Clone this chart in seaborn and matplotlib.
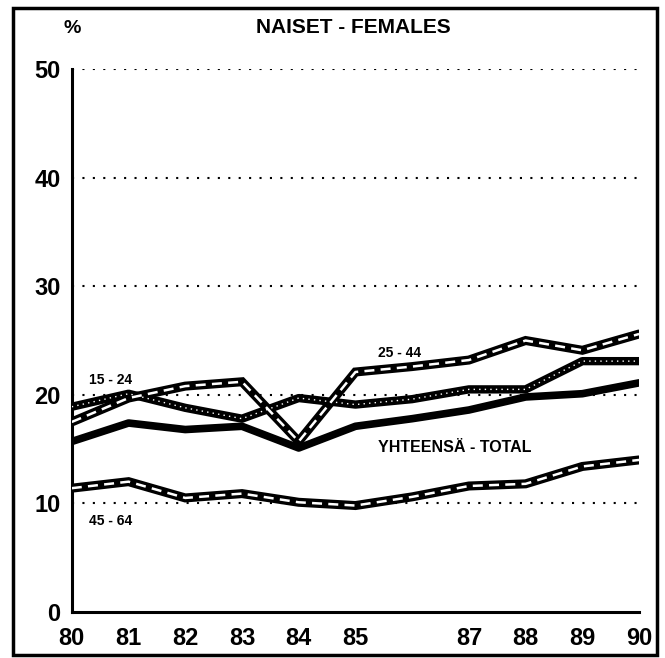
import matplotlib
matplotlib.use('Agg')
import matplotlib.pyplot as plt
import seaborn as sns
import pandas as pd
from matplotlib.patches import Rectangle

# data (share, %)
years = [80, 81, 82, 83, 84, 85, 86, 87, 88, 89, 90]
year_labels = ['80', '81', '82', '83', '84', '85', '', '87', '88', '89', '90']
total = [15.7, 17.4, 16.8, 17.1, 15.1, 17.1, 17.8, 18.6, 19.8, 20.1, 21.1]
age_15_24 = [18.9, 20.1, 18.8, 17.8, 19.7, 19.1, 19.6, 20.5, 20.5, 23.1, 23.1]
age_25_44 = [17.5, 19.7, 20.8, 21.2, 15.7, 22.1, 22.6, 23.2, 25.0, 24.1, 25.6]
age_45_64 = [11.4, 12.0, 10.5, 10.9, 10.1, 9.8, 10.6, 11.6, 11.8, 13.4, 14.0]
y_ticks = [0, 10, 20, 30, 40, 50]

df = pd.DataFrame({'vuosi': years, 'total': total, '15-24': age_15_24,
                   '25-44': age_25_44, '45-64': age_45_64})

sns.set_style('white')
plt.rcParams['font.family'] = ['Liberation Sans', 'DejaVu Sans']
plt.rcParams['text.color'] = 'black'
plt.rcParams['xtick.color'] = 'black'
plt.rcParams['ytick.color'] = 'black'
plt.rcParams['axes.labelcolor'] = 'black'

fig = plt.figure(figsize=(6.65, 6.58), dpi=100)
ax = fig.add_axes([0.108, 0.070, 0.853, 0.825])

# dotted grid
for v in y_ticks[1:]:
    ax.axhline(v, color='black', lw=1.5, ls=(0, (1, 4)), zorder=1)

# 45-64 and 25-44: black band with white dashes inside
for col in ['45-64', '25-44']:
    sns.lineplot(data=df, x='vuosi', y=col, ax=ax, color='black', lw=6.5,
                 solid_joinstyle='miter', zorder=3)
    sns.lineplot(data=df, x='vuosi', y=col, ax=ax, color='white', lw=1.8,
                 ls=(0, (4, 2.5)), zorder=4)

# 15-24: dark band with white dots
sns.lineplot(data=df, x='vuosi', y='15-24', ax=ax, color='black', lw=6,
             zorder=3)
sns.lineplot(data=df, x='vuosi', y='15-24', ax=ax, color='white', lw=1.0,
             ls=(0, (1, 3)), zorder=4)

# total: thick solid
sns.lineplot(data=df, x='vuosi', y='total', ax=ax, color='black', lw=5.5,
             zorder=5)

ax.set_xlim(80, 90)
ax.set_ylim(0, 50)
ax.set_xticks(years)
ax.set_xticklabels(year_labels)
ax.set_yticks(y_ticks)
ax.set_xlabel('')
ax.set_ylabel('')
for s in ['top', 'right']:
    ax.spines[s].set_visible(False)
for s in ['left', 'bottom']:
    ax.spines[s].set_linewidth(2.2)
    ax.spines[s].set_color('black')
ax.tick_params(axis='x', direction='out', length=7, width=2, pad=4,
               labelsize=17, colors='black')
ax.tick_params(axis='y', direction='out', length=5, width=2, pad=3,
               labelsize=17, colors='black')
for lab in ax.get_xticklabels() + ax.get_yticklabels():
    lab.set_fontweight('bold')
ax.set_facecolor('white')

# labels
ax.text(80.0, 53.0, '%', fontsize=14, fontweight='bold', ha='center',
        va='bottom', clip_on=False)
fig.text(0.532, 0.958, 'NAISET - FEMALES', fontsize=15, fontweight='bold',
         ha='center', va='center')
ax.text(80.3, 21.0, '15 - 24', fontsize=10, fontweight='bold')
ax.text(85.4, 23.5, '25 - 44', fontsize=10, fontweight='bold')
ax.text(85.4, 14.7, 'YHTEENSÄ - TOTAL', fontsize=11.5, fontweight='bold')
ax.text(80.3, 8.0, '45 - 64', fontsize=10, fontweight='bold')

# outer frame
fig.patches.append(Rectangle((0.02, 0.004), 0.968, 0.984, transform=fig.transFigure,
                             fill=False, edgecolor='black', lw=2.5))

fig.savefig('out.png', dpi=100)
